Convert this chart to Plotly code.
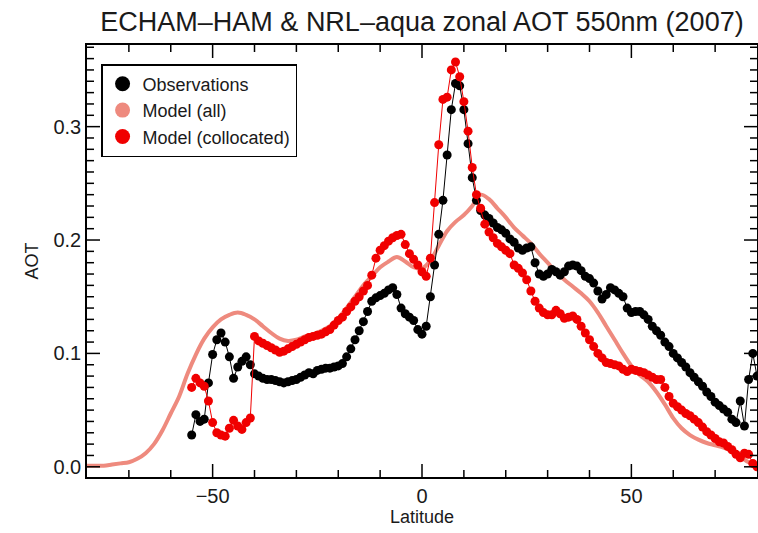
import plotly.graph_objects as go

# ---------------- data ----------------
obs_lat = list(range(-55, 81))
obs_aot = [
    0.028, 0.046, 0.040, 0.042, 0.074, 0.099, 0.112, 0.118, 0.110, 0.097,  # -55..-46
    0.078, 0.088, 0.093, 0.097, 0.090, 0.082, 0.080, 0.078, 0.077, 0.077,  # -45..-36
    0.076, 0.075, 0.074, 0.075, 0.076, 0.077, 0.079, 0.081, 0.083, 0.082,  # -35..-26
    0.085, 0.086, 0.087, 0.087, 0.088, 0.089, 0.091, 0.097, 0.104, 0.112,  # -25..-16
    0.120, 0.128, 0.137, 0.146, 0.149, 0.151, 0.153, 0.156, 0.158, 0.152,  # -15..-6
    0.140, 0.135, 0.132, 0.129, 0.121, 0.117, 0.124, 0.150, 0.178, 0.205,  # -5..4
    0.235, 0.275, 0.315, 0.338, 0.336, 0.315, 0.285, 0.255, 0.235, 0.226,  # 5..14
    0.222, 0.219, 0.215, 0.211, 0.209, 0.206, 0.201, 0.198, 0.193, 0.191,  # 15..24
    0.193, 0.194, 0.180, 0.170, 0.168, 0.170, 0.174, 0.172, 0.169, 0.172,  # 25..34
    0.177, 0.178, 0.177, 0.173, 0.168, 0.166, 0.162, 0.155, 0.148, 0.152,  # 35..44
    0.158, 0.156, 0.153, 0.150, 0.140, 0.136, 0.137, 0.137, 0.134, 0.130,  # 45..54
    0.124, 0.120, 0.116, 0.110, 0.106, 0.100, 0.096, 0.092, 0.088, 0.083,  # 55..64
    0.079, 0.075, 0.071, 0.066, 0.062, 0.057, 0.054, 0.051, 0.048, 0.042,  # 65..74
    0.039, 0.058, 0.036, 0.077, 0.100, 0.080,                              # 75..80
]

col_lat = list(range(-55, 81))
col_aot = [
    0.070, 0.078, 0.074, 0.071, 0.058, 0.039, 0.030, 0.028, 0.027, 0.034,  # -55..-46
    0.041, 0.036, 0.033, 0.039, 0.043, 0.115, 0.111, 0.109, 0.107, 0.105,  # -45..-36
    0.103, 0.101, 0.102, 0.104, 0.106, 0.108, 0.110, 0.112, 0.114, 0.115,  # -35..-26
    0.116, 0.117, 0.119, 0.121, 0.125, 0.129, 0.132, 0.137, 0.141, 0.146,  # -25..-16
    0.150, 0.155, 0.160, 0.169, 0.184, 0.191, 0.195, 0.199, 0.202, 0.204,  # -15..-6
    0.205, 0.196, 0.188, 0.183, 0.178, 0.172, 0.168, 0.184, 0.233, 0.284,  # -5..4
    0.324, 0.326, 0.350, 0.357, 0.344, 0.322, 0.296, 0.264, 0.240, 0.228,  # 5..14
    0.214, 0.207, 0.202, 0.197, 0.194, 0.191, 0.188, 0.178, 0.175, 0.171,  # 15..24
    0.165, 0.155, 0.146, 0.140, 0.136, 0.134, 0.134, 0.138, 0.135, 0.131,  # 25..34
    0.132, 0.133, 0.130, 0.124, 0.118, 0.112, 0.106, 0.100, 0.096, 0.092,  # 35..44
    0.091, 0.090, 0.089, 0.086, 0.084, 0.086, 0.085, 0.084, 0.083, 0.081,  # 45..54
    0.079, 0.077, 0.077, 0.070, 0.062, 0.056, 0.053, 0.050, 0.047, 0.045,  # 55..64
    0.042, 0.039, 0.035, 0.031, 0.028, 0.025, 0.022, 0.021, 0.018, 0.015,  # 65..74
    0.011, 0.008, 0.012, 0.011, 0.003, 0.000,                              # 75..80
]

all_lat = list(range(-80, 81, 2))
all_aot = [
    0.001, 0.001, 0.001, 0.002, 0.003, 0.004, 0.007, 0.012, 0.020, 0.032,  # -80..-62
    0.047, 0.062, 0.082, 0.099, 0.113, 0.123, 0.130, 0.134, 0.136, 0.134,  # -60..-42
    0.130, 0.124, 0.118, 0.113, 0.111, 0.112, 0.115, 0.117, 0.120, 0.124,  # -40..-22
    0.131, 0.140, 0.150, 0.160, 0.168, 0.176, 0.181, 0.185, 0.181, 0.176,  # -20..-2
    0.175, 0.182, 0.195, 0.208, 0.216, 0.222, 0.230, 0.240, 0.236, 0.228,  # 0..18
    0.220, 0.211, 0.204, 0.197, 0.188, 0.180, 0.172, 0.165, 0.159, 0.153,  # 20..38
    0.146, 0.136, 0.124, 0.112, 0.100, 0.089, 0.081, 0.075, 0.066, 0.055,  # 40..58
    0.043, 0.034, 0.028, 0.024, 0.021, 0.019, 0.017, 0.014, 0.009, 0.004,  # 60..78
    0.001,                                                                 # 80
]

series_names = ["Observations", "Model (all)", "Model (collocated)"]
x_range = [-80, 80]
y_range = [-0.009, 0.372]
x_major_ticks = [-50, 0, 50]
x_minor_ticks = [-70, -60, -40, -30, -20, -10, 10, 20, 30, 40, 60, 70]
y_major_ticks = [0.0, 0.1, 0.2, 0.3]
y_minor_ticks = [round(i / 100, 2) for i in range(1, 38) if i % 10]

c_obs = "#000000"
c_all = "#EE8A7E"
c_col = "#F00000"
FONT = "Liberation Sans, Arial, Helvetica, sans-serif"

fig = go.Figure()

fig.add_trace(go.Scatter(
    x=all_lat, y=all_aot, mode="lines", line=dict(color=c_all, width=4, shape="spline"),
    showlegend=False, hoverinfo="skip"))
fig.add_trace(go.Scatter(
    x=obs_lat, y=obs_aot, mode="lines+markers",
    line=dict(color=c_obs, width=1), marker=dict(color=c_obs, size=9),
    showlegend=False))
fig.add_trace(go.Scatter(
    x=col_lat, y=col_aot, mode="lines+markers",
    line=dict(color=c_col, width=1), marker=dict(color=c_col, size=9),
    showlegend=False))

# legend entries (filled circles, as in the original)
for name, c in zip(series_names, [c_obs, c_all, c_col]):
    fig.add_trace(go.Scatter(x=[None], y=[None], mode="markers", name=name,
                             marker=dict(color=c, size=15)))

common = dict(showline=True, linecolor="black", linewidth=1.5, mirror=True,
              ticks="", showgrid=False, zeroline=False, automargin=False,
              tickfont=dict(family=FONT, size=20, color="#1a1a1a"))

fig.update_xaxes(
    range=x_range, tickmode="array", tickvals=x_major_ticks,
    title=dict(text="Latitude", font=dict(family=FONT, size=18, color="#1a1a1a"), standoff=2),
    **common)
fig.update_yaxes(
    range=y_range, tickmode="array", tickvals=y_major_ticks, tickformat=".1f",
    title=dict(text="AOT", font=dict(family=FONT, size=18, color="#1a1a1a"), standoff=10),
    **common)

# inside tick marks on all four sides, placed through the axes' own scales
tick_line = dict(color="black", width=1.5)
for vals, length in ((x_major_ticks, 13), (x_minor_ticks, 7)):
    for v in vals:
        fig.add_shape(type="line", xref="x", yref="paper", ysizemode="pixel",
                      yanchor=0, x0=v, x1=v, y0=0, y1=length, line=tick_line)
        fig.add_shape(type="line", xref="x", yref="paper", ysizemode="pixel",
                      yanchor=1, x0=v, x1=v, y0=0, y1=-length, line=tick_line)
for vals, length in ((y_major_ticks, 13), (y_minor_ticks, 7)):
    for v in vals:
        fig.add_shape(type="line", xref="paper", yref="y", xsizemode="pixel",
                      xanchor=0, x0=0, x1=length, y0=v, y1=v, line=tick_line)
        fig.add_shape(type="line", xref="paper", yref="y", xsizemode="pixel",
                      xanchor=1, x0=0, x1=-length, y0=v, y1=v, line=tick_line)

fig.update_layout(
    width=758, height=533,
    margin=dict(l=87, r=1, t=45, b=56, autoexpand=False),
    paper_bgcolor="white", plot_bgcolor="white",
    title=dict(text="ECHAM–HAM & NRL–aqua zonal AOT 550nm (2007)",
               font=dict(family=FONT, size=27, color="#1a1a1a"),
               x=0.5, xref="paper", xanchor="center",
               y=1 - 22 / 533, yref="container", yanchor="middle"),
    legend=dict(x=0.021, y=0.956, xanchor="left", yanchor="top",
                bgcolor="white", bordercolor="black", borderwidth=1.5,
                font=dict(family=FONT, size=18, color="#1a1a1a"),
                tracegroupgap=0, itemwidth=30),
    showlegend=True,
)

fig.write_html("out.html", config={"displayModeBar": False},
               post_script="document.body.style.margin='0';document.body.style.overflow='hidden';")
